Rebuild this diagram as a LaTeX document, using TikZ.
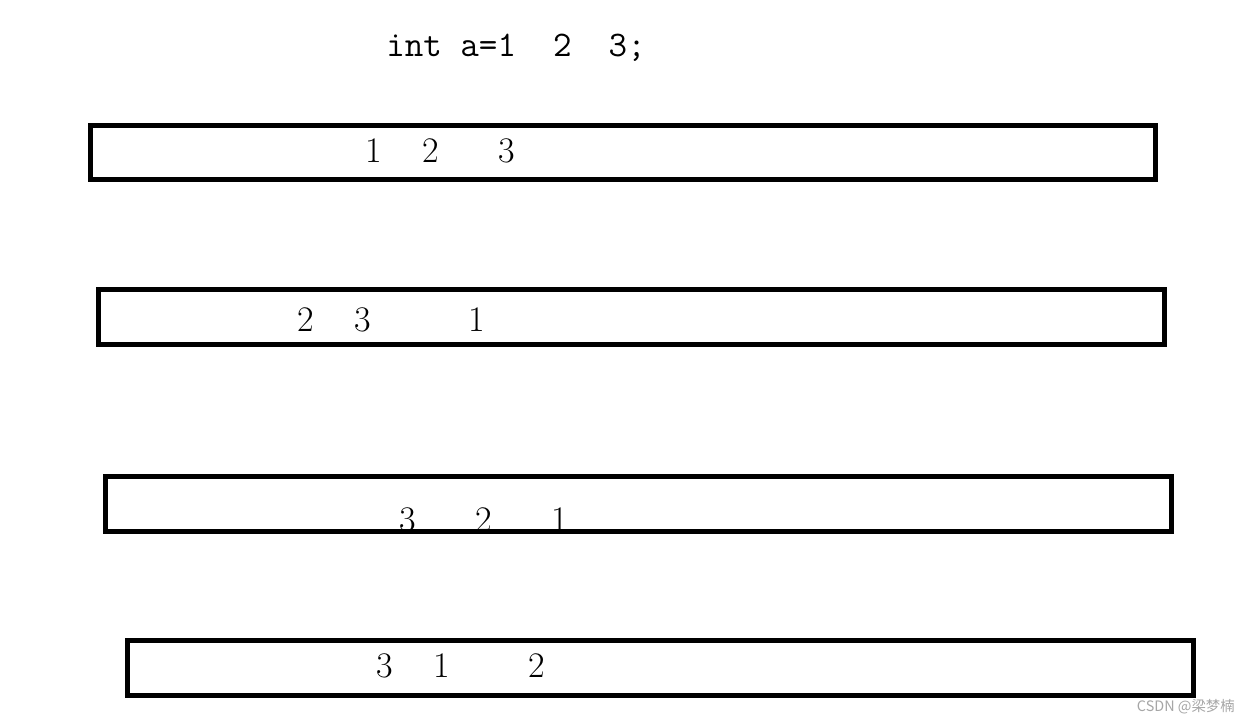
\documentclass[tikz,border=0pt]{standalone}
\usepackage{fontspec}
\newfontfamily\cjkwm{Noto Sans CJK SC}
\begin{document}
\begin{tikzpicture}[x=0.75pt,y=-0.75pt,
  frame/.style={draw=black,line width=3.75pt},
  digit/.style={anchor=base,inner sep=0pt,font=\fontsize{27}{27}\selectfont},
  code/.style={anchor=base west,inner sep=0pt,font=\fontsize{27}{27}\selectfont\ttfamily},
  wmark/.style={anchor=base east,inner sep=0pt,text=black!35,font=\cjkwm\fontsize{10.8}{11}\selectfont}]
\useasboundingbox (0,0) rectangle (1250,723);
\fill[white] (0,0) rectangle (1250,723);
% code line
\node[code] (code) at (386,57) {int a=1\ \ 2\ \ 3;};
% row 1
\node[digit] (r1a) at (374,163) {1};
\node[digit] (r1b) at (431,163) {2};
\node[digit] (r1c) at (507,163) {3};
\draw[frame] (90,125.5) rectangle (1155,180);
% row 2
\node[digit] (r2a) at (306,332) {2};
\node[digit] (r2b) at (363,332) {3};
\node[digit] (r2c) at (477,332) {1};
\draw[frame] (98.3,290) rectangle (1164,345);
% row 3
\node[digit] (r3a) at (408,532) {3};
\node[digit] (r3b) at (484,532) {2};
\node[digit] (r3c) at (560,532) {1};
\draw[frame] (105,476.5) rectangle (1171.5,531);
% row 4
\node[digit] (r4a) at (385,677) {3};
\node[digit] (r4b) at (442,677) {1};
\node[digit] (r4c) at (537,677) {2};
\draw[frame] (127.5,640) rectangle (1193.5,695);
% watermark
\node[wmark] (wm) at (1235,711) {CSDN @梁梦楠};
\end{tikzpicture}
\end{document}
